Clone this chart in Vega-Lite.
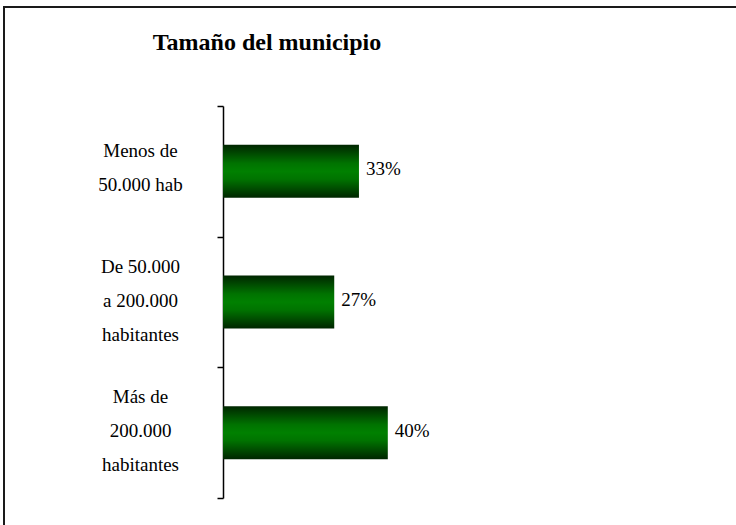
{
  "$schema": "https://vega.github.io/schema/vega-lite/v6.json",
  "width": 740,
  "height": 525,
  "autosize": "none",
  "padding": {"left": 4, "top": 7, "right": 0, "bottom": 0},
  "background": "white",
  "title": {
    "text": "Tamaño del municipio",
    "font": "Liberation Serif",
    "fontSize": 24,
    "fontWeight": "bold",
    "color": "black",
    "anchor": "middle",
    "frame": "group",
    "dx": -107,
    "dy": 33,
    "baseline": "alphabetic",
    "offset": -43
  },
  "config": {
    "view": {"stroke": "#1a1a1a", "strokeWidth": 2}
  },
  "data": {
    "values": [
      {"categoria": "Menos de 50.000 hab", "pct": 0.33},
      {"categoria": "De 50.000 a 200.000 habitantes", "pct": 0.27},
      {"categoria": "Más de 200.000 habitantes", "pct": 0.40}
    ]
  },
  "encoding": {
    "y": {
      "field": "categoria",
      "type": "nominal",
      "sort": null,
      "scale": {"range": [99, 491], "paddingInner": 0, "paddingOuter": 0},
      "axis": {
        "title": null,
        "orient": "left",
        "offset": -219,
        "domainColor": "black",
        "domainWidth": 1.5,
        "tickColor": "black",
        "tickWidth": 1.5,
        "tickSize": 6,
        "tickBand": "extent",
        "labelFont": "Liberation Serif",
        "labelFontSize": 19,
        "labelColor": "black",
        "labelAlign": "center",
        "labelBaseline": "middle",
        "labelPadding": 77,
        "labelLineHeight": 34,
        "labelOffset": {"condition": {"test": "datum.value == 'Menos de 50.000 hab'", "value": -21}, "value": -36},
        "labelExpr": "datum.value == 'Menos de 50.000 hab' ? ['Menos de', '50.000 hab'] : datum.value == 'De 50.000 a 200.000 habitantes' ? ['De 50.000', 'a 200.000', 'habitantes'] : datum.value == 'Más de 200.000 habitantes' ? ['Más de', '200.000', 'habitantes'] : ''"
      }
    },
    "x": {
      "field": "pct",
      "type": "quantitative",
      "scale": {"domain": [0, 0.5], "range": [219, 425], "nice": false, "zero": true},
      "axis": null
    }
  },
  "layer": [
    {
      "mark": {
        "type": "bar",
        "height": {"band": 0.405},
        "color": {
          "gradient": "linear",
          "x1": 0, "y1": 0, "x2": 0, "y2": 1,
          "stops": [
            {"offset": 0, "color": "#002600"},
            {"offset": 0.35, "color": "#007300"},
            {"offset": 0.5, "color": "#008000"},
            {"offset": 0.65, "color": "#007300"},
            {"offset": 1, "color": "#002600"}
          ]
        }
      }
    },
    {
      "mark": {
        "type": "text",
        "align": "left",
        "baseline": "middle",
        "dx": 7,
        "dy": -2,
        "font": "Liberation Serif",
        "fontSize": 19,
        "color": "black"
      },
      "encoding": {
        "text": {"field": "pct", "type": "quantitative", "format": ".0%"}
      }
    }
  ]
}
